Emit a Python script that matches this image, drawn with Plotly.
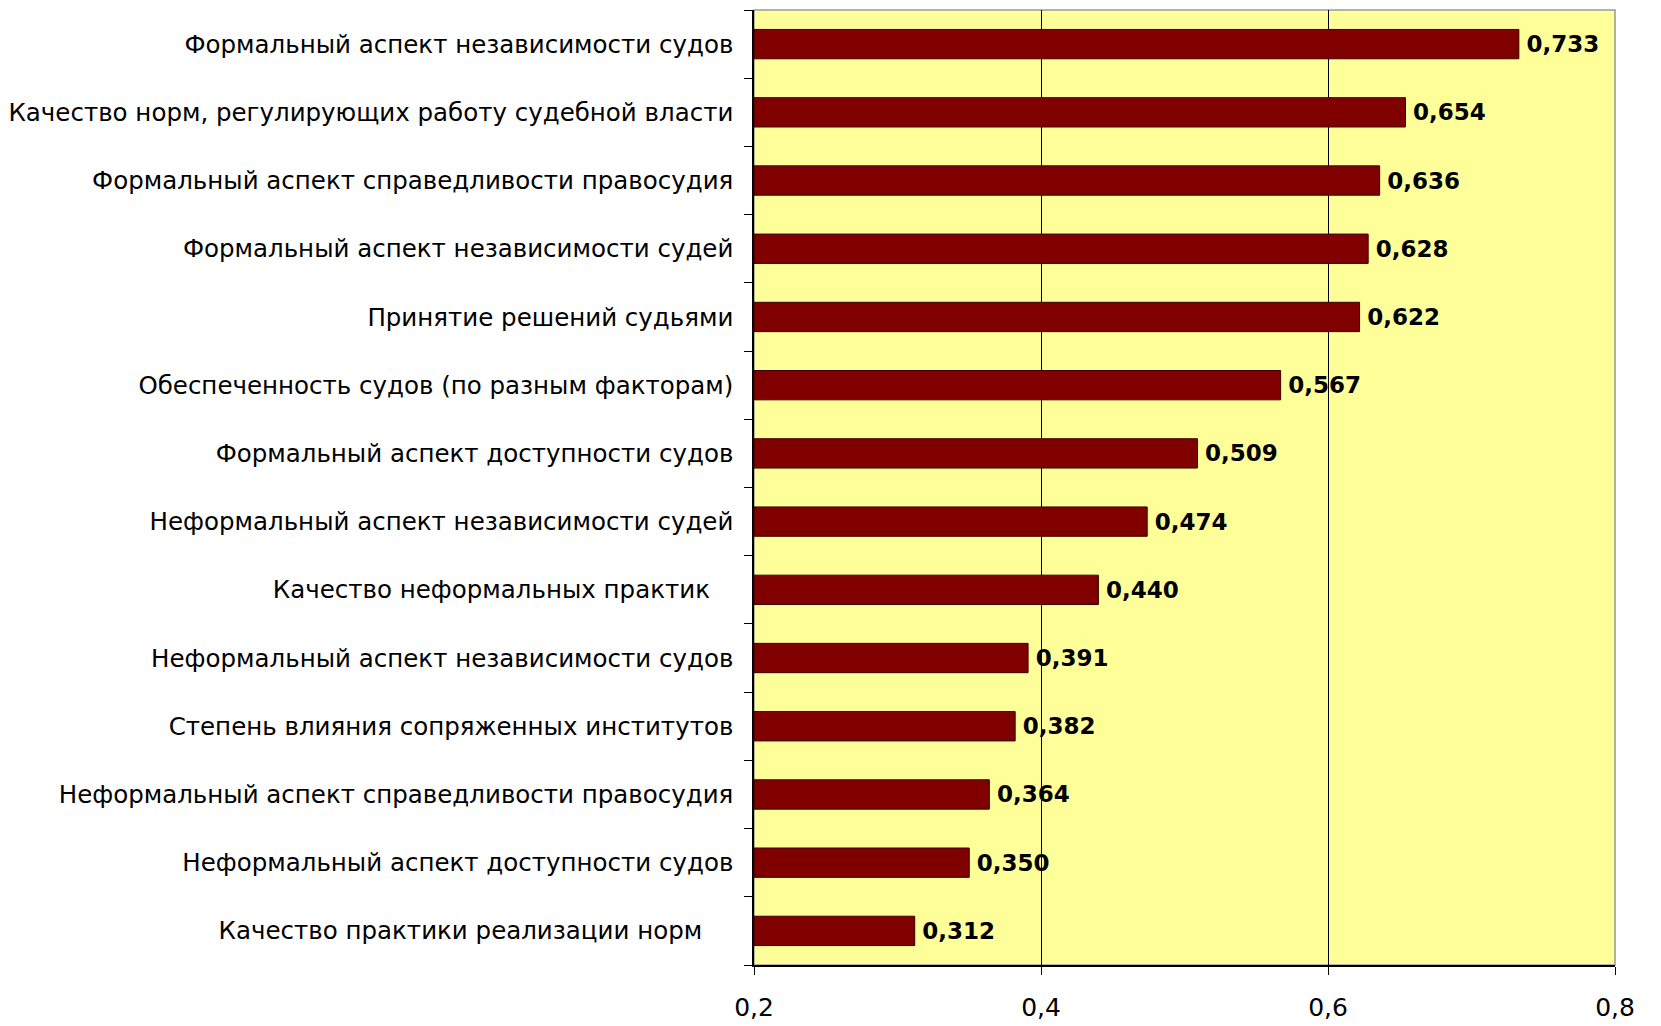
import plotly.graph_objects as go

categories = [
    "Формальный аспект независимости судов",
    "Качество норм, регулирующих работу судебной власти",
    "Формальный аспект справедливости правосудия",
    "Формальный аспект независимости судей",
    "Принятие решений судьями",
    "Обеспеченность судов (по разным факторам)",
    "Формальный аспект доступности судов",
    "Неформальный аспект независимости судей",
    "Качество неформальных практик\u00a0\u00a0\u00a0",
    "Неформальный аспект независимости судов",
    "Степень влияния сопряженных институтов",
    "Неформальный аспект справедливости правосудия",
    "Неформальный аспект доступности судов",
    "Качество практики реализации норм\u00a0\u00a0\u00a0\u00a0",
]
values = [0.733, 0.654, 0.636, 0.628, 0.622, 0.567, 0.509, 0.474,
          0.440, 0.391, 0.382, 0.364, 0.350, 0.312]
x_ticks = [0.2, 0.4, 0.6, 0.8]

base = 0.2
fig = go.Figure()
fig.add_trace(go.Bar(
    y=categories[::-1],
    x=[v - base for v in values[::-1]],
    base=base,
    orientation="h",
    width=0.43,
    marker=dict(color="#800000", line=dict(color="#3a0000", width=1)),
    text=["\u2009" + f"{v:.3f}".replace(".", ",") for v in values[::-1]],
    textposition="outside",
    cliponaxis=False,
    textfont=dict(family="DejaVu Sans", size=23, color="black", weight="bold"),
    hoverinfo="skip",
))

# page body has an 8px margin, so the figure is offset by (8, 8)
fig.update_layout(
    width=1653, height=1018,
    margin=dict(l=746, r=46, t=2, b=61),
    paper_bgcolor="white",
    plot_bgcolor="#FFFF99",
    separators=", ",
    showlegend=False,
    bargap=0.57,
    font=dict(family="DejaVu Sans", color="black"),
)
fig.update_xaxes(
    range=[0.2, 0.8],
    tickvals=x_ticks,
    ticktext=[f"{t:.1f}".replace(".", ",") for t in x_ticks],
    showgrid=True, gridcolor="black", gridwidth=1,
    showline=True, linecolor="black", linewidth=1.5,
    ticks="outside", ticklen=8, tickcolor="black",
    tickfont=dict(size=25, family="DejaVu Sans"),
    ticklabelstandoff=11,
    zeroline=False,
    automargin=False,
)
fig.update_yaxes(
    showline=True, linecolor="black", linewidth=1.5,
    ticks="outside", ticklen=8, tickcolor="black",
    tickson="boundaries",
    tickfont=dict(size=24.5, family="DejaVu Sans"),
    ticklabelstandoff=14,
    showgrid=False,
    automargin=False,
)
fig.add_shape(type="rect", xref="paper", yref="paper", x0=0, y0=0, x1=1, y1=1,
              line=dict(color="#999999", width=1.5), layer="below")

fig.write_html("out.html")
